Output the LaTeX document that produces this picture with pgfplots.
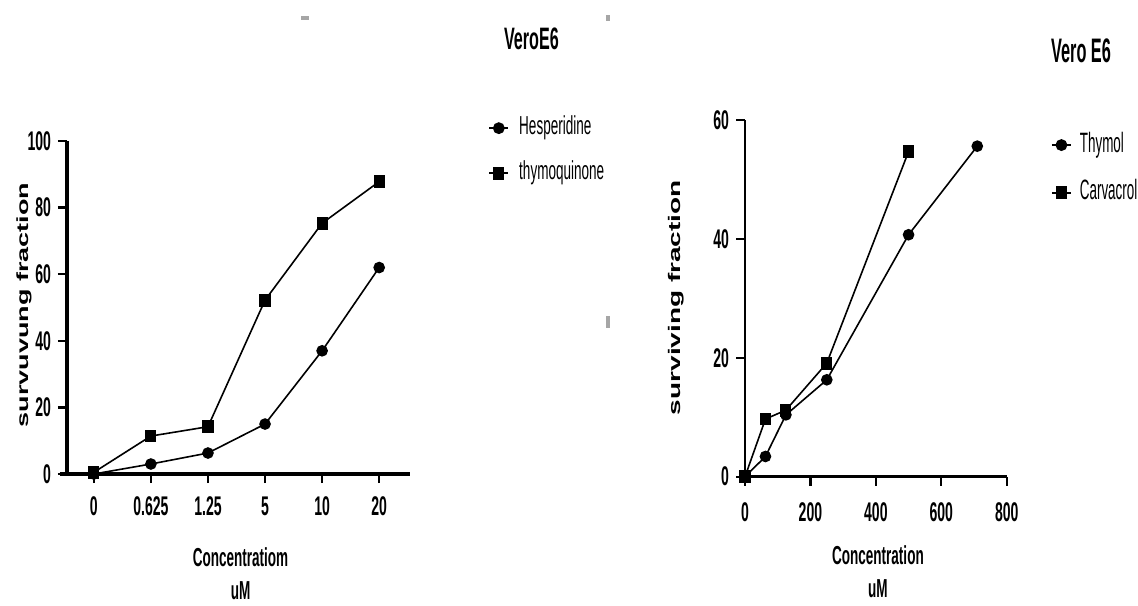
\documentclass[border=0pt]{standalone}
\usepackage{fontspec}
\setmainfont{Liberation Sans}
\newfontfamily\cf{Liberation Sans}[FakeStretch=0.52]
\newfontfamily\cfn{Liberation Sans}[FakeStretch=0.48]
\usepackage{graphicx}
\usepackage{pgfplots}
\pgfplotsset{compat=1.18}

\pgfplotsset{
  vero/.style={
    scale only axis,
    clip=false,
    axis x line*=bottom,
    axis y line*=left,
    tick align=outside,
    major tick length=4.5pt,
    tick style={black, line width=1.2pt},
    /pgf/number format/assume math mode=true,
    ticklabel style={font=\cf\bfseries\fontsize{13.5}{14}\selectfont},
    xlabel style={align=center, anchor=center, font=\cf\bfseries\fontsize{13}{16.5}\selectfont},
    ylabel style={anchor=center},
    legend cell align=left,
    legend image code/.code={
      \draw[line width=0.9pt, mark repeat=2, mark phase=2]
        plot coordinates {(0pt,0pt) (4.75pt,0pt) (9.5pt,0pt)};
    },
  },
  circ/.style={black, line width=0.8pt, mark=*, mark size=2.5pt},
  sq/.style={black, line width=0.8pt, mark=square*, mark size=2.8pt, mark options={xscale=0.85}},
}

\begin{document}
\begin{tikzpicture}
\path[use as bounding box] (0,0) rectangle (569pt,302.5pt);

% small grey marks in the source image
\fill[gray!70] (150.5pt,292.5pt) rectangle (154.5pt,294.5pt);
\fill[gray!70] (303pt,292pt) rectangle (305pt,295pt);
\fill[gray!70] (303pt,138.5pt) rectangle (305pt,144.5pt);

% left chart
\begin{axis}[vero,
  at={(33.5pt,65.5pt)}, anchor=south west,
  width=171.5pt, height=166.5pt,
  xmin=-0.47, xmax=5.54, ymin=0, ymax=100,
  xtick={0,1,2,3,4,5},
  xticklabels={0,0.625,1.25,5,10,20},
  ytick={0,20,40,60,80,100},
  xticklabel style={yshift=-3.5pt},
  x axis line style={line width=2.2pt, shorten <=-3.5pt},
  y axis line style={line width=1.6pt},
  xlabel={Concentratiom\\uM},
  xlabel style={at={(axis description cs:0.506,-0.300)}},
  ylabel={\scalebox{1}[0.6]{\bfseries\fontsize{13.5}{14}\selectfont survuvung fraction}},
  ylabel style={at={(axis description cs:-0.125,0.5075)}},
  title={VeroE6},
  title style={at={(axis description cs:1.354,1.270)}, anchor=center,
    font=\cf\bfseries\fontsize{15.5}{16}\selectfont},
  legend style={draw=none, fill=none, at={(axis description cs:1.21,0.971)},
    anchor=west, font=\cf\fontsize{13}{13}\selectfont, row sep=9pt,
    nodes={inner sep=1pt, text height=9pt, text depth=2.5pt},
    /tikz/every odd column/.append style={column sep=4pt}},
]
\addplot[circ] coordinates {(0,0) (1,3) (2,6.3) (3,15) (4,37) (5,62)};
\addlegendentry{Hesperidine}
\addplot[sq] coordinates {(0,0.5) (1,11.4) (2,14.2) (3,52.2) (4,75.3) (5,87.8)};
\addlegendentry{thymoquinone}
\end{axis}

% right chart
\begin{axis}[vero,
  at={(372.5pt,64.15pt)}, anchor=south west,
  width=130.85pt, height=178.35pt,
  xmin=0, xmax=800, ymin=0, ymax=60,
  xtick={0,200,400,600,800},
  ytick={0,20,40,60},
  xticklabel style={yshift=-5pt},
  x axis line style={line width=1.6pt},
  y axis line style={line width=1.1pt},
  xlabel={Concentration\\uM},
  xlabel style={at={(axis description cs:0.508,-0.265)}},
  ylabel={\scalebox{1}[0.6]{\bfseries\fontsize{14}{15}\selectfont surviving fraction}},
  ylabel style={at={(axis description cs:-0.264,0.502)}},
  title={Vero E6},
  title style={at={(axis description cs:1.284,1.161)}, anchor=center,
    font=\cfn\bfseries\fontsize{17}{17}\selectfont},
  legend style={draw=none, fill=none, at={(axis description cs:1.145,0.863)},
    anchor=west, font=\cfn\fontsize{14}{15}\selectfont, row sep=8.8pt,
    nodes={inner sep=1pt, text height=10pt, text depth=3pt},
    /tikz/every odd column/.append style={column sep=3pt}},
]
\addplot[circ] coordinates {(0,0) (62.5,3.4) (125,10.4) (250,16.3) (500,40.7) (710,55.6)};
\addlegendentry{Thymol}
\addplot[sq] coordinates {(0,0) (62.5,9.7) (125,11.2) (250,19.1) (500,54.7)};
\addlegendentry{Carvacrol}
\end{axis}
\end{tikzpicture}
\end{document}
